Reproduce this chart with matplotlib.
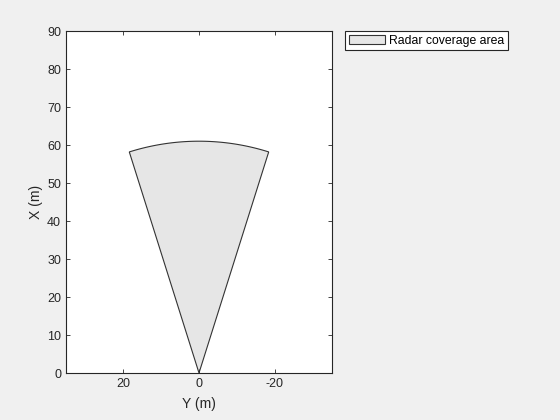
import numpy as np
import matplotlib
matplotlib.use("Agg")
import matplotlib.pyplot as plt

plt.rcParams['font.family'] = ['Liberation Sans', 'DejaVu Sans']
plt.rcParams['axes.unicode_minus'] = False

# Radar coverage parameters
fov_deg = 35.0        # total field of view (degrees)
range_m = 61.0        # max range (m)
legend_labels = ["Radar coverage area"]
x_ticks = [0, 10, 20, 30, 40, 50, 60, 70, 80, 90]
y_ticks = [20, 0, -20]

half = np.deg2rad(fov_deg / 2)
ang = np.linspace(-half, half, 60)
horiz = np.concatenate([[0.0], range_m * np.sin(ang), [0.0]])
vert = np.concatenate([[0.0], range_m * np.cos(ang), [0.0]])

fig = plt.figure(figsize=(5.6, 4.2), dpi=100, facecolor='#f0f0f0')
ax = fig.add_axes([66/560, 47/420, 266/560, 342/420])
ax.fill(horiz, vert, facecolor='#e6e6e6', edgecolor='#333333', linewidth=0.8,
        label=legend_labels[0])
ax.set_xlim(35, -35)
ax.set_ylim(0, 90)
ax.set_xticks(y_ticks)
ax.set_yticks(x_ticks)
ax.tick_params(direction='in', top=True, right=True, labelsize=9, colors='#262626',
               length=3, width=0.6)
for s in ax.spines.values():
    s.set_linewidth(0.8)
    s.set_color('#262626')
ax.set_xlabel('Y (m)', fontsize=10, color='#262626', labelpad=5)
ax.set_ylabel('X (m)', fontsize=10, color='#262626', labelpad=3)

leg = ax.legend(loc='upper left', bbox_to_anchor=(345/560, 1-31/420),
                bbox_transform=fig.transFigure, fontsize=8.8, fancybox=False,
                framealpha=1, edgecolor='#262626', handlelength=3.0,
                handleheight=0.8, borderpad=0.3, borderaxespad=0,
                handletextpad=0.3)
leg.get_frame().set_linewidth(0.8)

fig.savefig('out.png', dpi=100, facecolor=fig.get_facecolor())
